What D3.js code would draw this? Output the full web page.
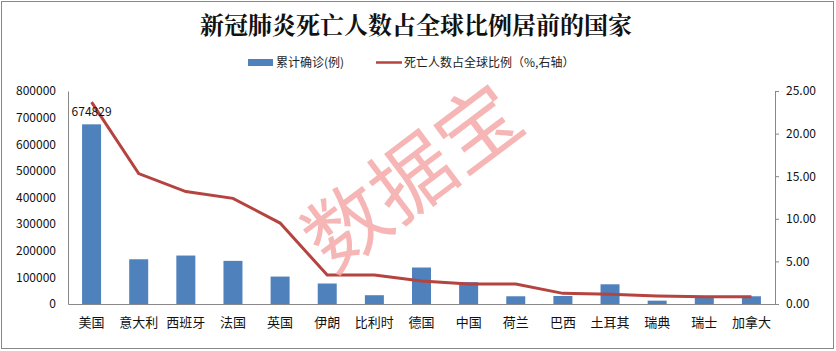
<body style="margin:0;background:#fff"></body>

<script src='https://d3js.org/d3.v7.min.js'></script>
<script>
    const countries = ["美国", "意大利", "西班牙", "法国", "英国", "伊朗", "比利时", "德国", "中国", "荷兰", "巴西", "土耳其", "瑞典", "瑞士", "加拿大"];
    const confirmed = [674829, 168000, 182000, 162000, 103000, 77000, 33000, 137000, 82000, 29000, 30000, 74000, 12500, 27000, 29000];
    const deathShare = [23.7, 15.3, 13.2, 12.4, 9.5, 3.4, 3.4, 2.7, 2.35, 2.35, 1.25, 1.15, 0.95, 0.85, 0.85];
    const leftTicks = [0, 100000, 200000, 300000, 400000, 500000, 600000, 700000, 800000];
    const rightTicks = [0, 5, 10, 15, 20, 25];

    const width = 836, height = 351;
    const plot = { left: 68, right: 775, top: 91, bottom: 304 };
    const font = "'Noto Sans CJK SC', 'Noto Sans', sans-serif";

    var svg = d3.select("body").append("svg")
        .attr("width", width)
        .attr("height", height)
        .style("font-family", font);

    // outer frame
    svg.append("rect")
        .attr("x", 1.5).attr("y", 1.5)
        .attr("width", width - 4).attr("height", height - 4)
        .attr("fill", "#fff").attr("stroke", "#888");

    var x = d3.scaleBand().domain(countries).range([plot.left, plot.right]);
    var yL = d3.scaleLinear().domain([0, 800000]).range([plot.bottom, plot.top]);
    var yR = d3.scaleLinear().domain([0, 25]).range([plot.bottom, plot.top]);

    // title
    svg.append("text")
        .attr("x", 416).attr("y", 34)
        .attr("text-anchor", "middle")
        .style("font-size", "24px").style("font-weight", "bold")
        .style("font-family", "'Noto Serif CJK SC', 'Noto Sans CJK SC', serif")
        .attr("fill", "#111")
        .text("新冠肺炎死亡人数占全球比例居前的国家");

    // legend
    var lg = svg.append("g").style("font-size", "12px");
    lg.append("rect").attr("x", 248).attr("y", 59).attr("width", 25).attr("height", 7).attr("fill", "#4F81BD");
    lg.append("text").attr("x", 276).attr("y", 67).attr("fill", "#222").text("累计确诊(例)");
    lg.append("line").attr("x1", 376).attr("x2", 402).attr("y1", 62.5).attr("y2", 62.5)
        .attr("stroke", "#B5433F").attr("stroke-width", 2.5);
    lg.append("text").attr("x", 404).attr("y", 67).attr("fill", "#222").text("死亡人数占全球比例（%,右轴）");

    // bars
    var barW = 19;
    svg.selectAll(".bar").data(confirmed).enter().append("rect")
        .attr("class", "bar")
        .attr("x", (d, i) => x(countries[i]) + x.bandwidth() / 2 - barW / 2)
        .attr("y", d => yL(d))
        .attr("width", barW)
        .attr("height", d => yL(0) - yL(d))
        .attr("fill", "#4F81BD");

    // line
    var line = d3.line()
        .x((d, i) => x(countries[i]) + x.bandwidth() / 2)
        .y(d => yR(d));
    svg.append("path").datum(deathShare)
        .attr("d", line)
        .attr("fill", "none")
        .attr("stroke", "#B5433F")
        .attr("stroke-width", 3);

    // watermark
    svg.append("text")
        .attr("transform", "translate(413,178) rotate(-37)")
        .attr("text-anchor", "middle")
        .attr("dy", "0.35em")
        .style("font-size", "82px").style("font-weight", 400)
        .attr("fill", "#F4A9A9").attr("fill-opacity", 0.85)
        .text("数据宝");

    // data label
    svg.append("text")
        .attr("x", x(countries[0]) + x.bandwidth() / 2)
        .attr("y", yL(confirmed[0]) - 8)
        .attr("text-anchor", "middle")
        .style("font-size", "12px").attr("fill", "#111")
        .text(confirmed[0]);

    // axes
    var axL = svg.append("g")
        .attr("transform", "translate(" + plot.left + ",0)")
        .call(d3.axisLeft(yL).tickValues(leftTicks).tickSize(0).tickPadding(12).tickFormat(d3.format("d")));
    var axR = svg.append("g")
        .attr("transform", "translate(" + plot.right + ",0)")
        .call(d3.axisRight(yR).tickValues(rightTicks).tickSize(4).tickPadding(7).tickFormat(d3.format(".2f")));
    var axB = svg.append("g")
        .attr("transform", "translate(0," + plot.bottom + ")")
        .call(d3.axisBottom(x).tickSize(0).tickPadding(14));

    [axL, axR, axB].forEach(function (a) {
        a.select(".domain").attr("stroke", "#888");
        a.selectAll(".tick line").attr("stroke", "#888");
        a.selectAll("text").style("font-family", font).attr("fill", "#111");
    });
    axL.selectAll("text").style("font-size", "12px");
    axR.selectAll("text").style("font-size", "12px");
    axB.selectAll("text").style("font-size", "13px");
</script>
